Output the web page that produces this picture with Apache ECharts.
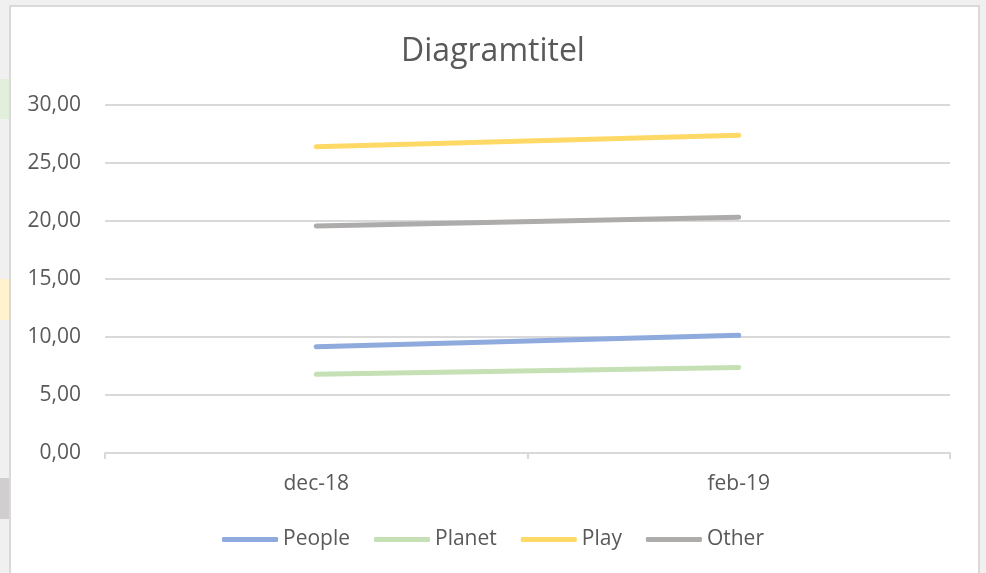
<!DOCTYPE html>
<html>
<head>
<meta charset="utf-8">
<script src="https://cdn.jsdelivr.net/npm/echarts@6/dist/echarts.min.js"></script>
<style>
html,body{margin:0;padding:0;background:#f0f0f0;}
#chart{width:986px;height:573px;}
</style>
</head>
<body>
<div id="chart"></div>
<script>
const categories = ['dec-18', 'feb-19'];
const people = [9.15, 10.15];
const planet = [6.78, 7.38];
const play = [26.4, 27.4];
const other = [19.57, 20.33];
const seriesNames = ['People', 'Planet', 'Play', 'Other'];
const yTicks = { min: 0, max: 30, interval: 5 };

const colors = ['#8faadc', '#c5e0b4', '#ffd966', '#aeabab'];
const FONT = 'Open Sans';
const TXT = '#595959';

const chart = echarts.init(document.getElementById('chart'), null, { renderer: 'canvas' });
const dataSets = [people, planet, play, other];

chart.setOption({
  backgroundColor: '#f0f0f0',
  animation: false,
  color: colors,
  graphic: [
    { type: 'rect', shape: { x: 10, y: 6, width: 969, height: 580 }, style: { fill: '#ffffff', stroke: '#d9d9d9', lineWidth: 2 }, z: -10 },
    { type: 'rect', shape: { x: 0, y: 79, width: 9, height: 40 }, style: { fill: '#e2efda' }, z: -10 },
    { type: 'rect', shape: { x: 0, y: 279, width: 9, height: 41 }, style: { fill: '#fff2cc' }, z: -10 },
    { type: 'rect', shape: { x: 0, y: 478, width: 9, height: 41 }, style: { fill: '#d0cece' }, z: -10 }
  ],
  title: {
    text: 'Diagramtitel',
    left: 'center',
    top: 31,
    textStyle: { fontFamily: FONT, fontSize: 32, fontWeight: 'normal', color: TXT }
  },
  legend: {
    bottom: 18,
    left: 'center',
    icon: 'roundRect',
    itemWidth: 56,
    itemHeight: 5,
    itemGap: 24,
    textStyle: { fontFamily: FONT, fontSize: 21, color: TXT },
    data: seriesNames
  },
  grid: { left: 105, right: 36, top: 105, bottom: 120, containLabel: false },
  xAxis: {
    type: 'category',
    data: categories,
    boundaryGap: true,
    axisLine: { lineStyle: { color: '#d9d9d9', width: 2 } },
    axisTick: { show: true, length: 6, lineStyle: { color: '#d9d9d9', width: 2 } },
    axisLabel: { fontFamily: FONT, fontSize: 21, color: TXT, margin: 21 }
  },
  yAxis: {
    type: 'value',
    min: yTicks.min,
    max: yTicks.max,
    interval: yTicks.interval,
    axisLine: { show: false },
    axisTick: { show: false },
    splitLine: { lineStyle: { color: '#d9d9d9', width: 2 } },
    axisLabel: {
      fontFamily: FONT, fontSize: 21, color: TXT, margin: 24,
      formatter: v => v.toFixed(2).replace('.', ',')
    }
  },
  series: seriesNames.map((n, i) => ({
    name: n,
    type: 'line',
    data: dataSets[i],
    symbol: 'none',
    lineStyle: { width: 5, cap: 'round', color: colors[i] },
    itemStyle: { color: colors[i] }
  }))
});
</script>
</body>
</html>
